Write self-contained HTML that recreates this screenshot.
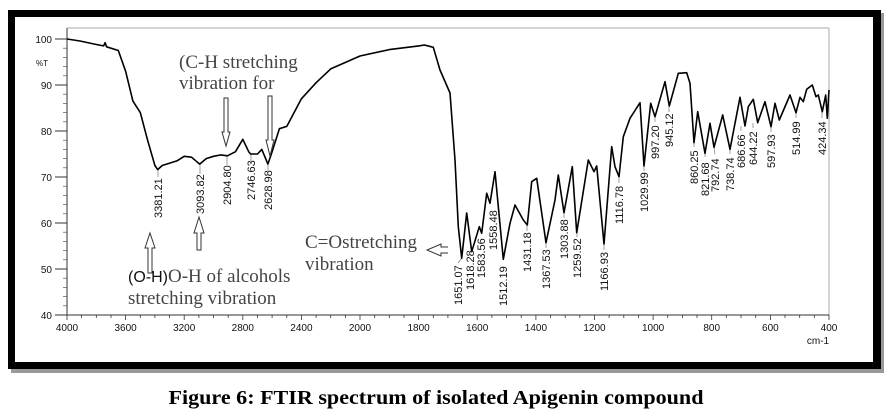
<!DOCTYPE html>
<html><head><meta charset="utf-8"><style>
html,body{margin:0;padding:0;background:#fff;}
svg{display:block;}
</style></head><body>
<svg width="887" height="418" viewBox="0 0 887 418" xmlns="http://www.w3.org/2000/svg">
<rect x="0" y="0" width="887" height="418" fill="#fff"/>
<rect x="11" y="13" width="873" height="360" fill="#999"/>
<rect x="8" y="10" width="873" height="359" fill="#000"/>
<rect x="15" y="17" width="858" height="345" fill="#fff"/>
<line x1="67" y1="28" x2="829" y2="28" stroke="#aaa" stroke-width="1"/>
<line x1="829" y1="28" x2="829" y2="315" stroke="#aaa" stroke-width="1"/>
<line x1="67" y1="28" x2="67" y2="315" stroke="#333" stroke-width="1"/>
<line x1="55" y1="315" x2="829" y2="315" stroke="#333" stroke-width="1"/>
<g stroke="#333" stroke-width="1">
<line x1="55" y1="39" x2="67" y2="39"/><line x1="55" y1="85" x2="67" y2="85"/><line x1="55" y1="131" x2="67" y2="131"/><line x1="55" y1="177" x2="67" y2="177"/><line x1="55" y1="223" x2="67" y2="223"/><line x1="55" y1="269" x2="67" y2="269"/>
</g>
<g font-family="Liberation Sans, sans-serif" font-size="10" fill="#111" text-anchor="end">
<text x="52" y="43">100</text><text x="52" y="89">90</text><text x="52" y="135">80</text><text x="52" y="181">70</text><text x="52" y="227">60</text><text x="52" y="273">50</text><text x="52" y="319">40</text>
<text x="48" y="66" font-size="8">%T</text>
</g>
<g font-family="Liberation Sans, sans-serif" font-size="10" fill="#111" text-anchor="middle">
<text x="67" y="331">4000</text><text x="125.6" y="331">3600</text><text x="184.2" y="331">3200</text><text x="242.8" y="331">2800</text><text x="301.4" y="331">2400</text><text x="360" y="331">2000</text><text x="418.6" y="331">1800</text><text x="477.2" y="331">1600</text><text x="535.9" y="331">1400</text><text x="594.5" y="331">1200</text><text x="653.1" y="331">1000</text><text x="711.7" y="331">800</text><text x="770.4" y="331">600</text><text x="829" y="331">400</text>
<text x="818" y="344">cm-1</text>
</g>
<g stroke="#333" stroke-width="0.8">
<line x1="67" y1="315" x2="67" y2="320"/><line x1="81.6" y1="315" x2="81.6" y2="318"/><line x1="96.3" y1="315" x2="96.3" y2="318"/><line x1="111" y1="315" x2="111" y2="318"/><line x1="125.6" y1="315" x2="125.6" y2="320"/><line x1="140.3" y1="315" x2="140.3" y2="318"/><line x1="154.9" y1="315" x2="154.9" y2="318"/><line x1="169.6" y1="315" x2="169.6" y2="318"/><line x1="184.2" y1="315" x2="184.2" y2="320"/><line x1="198.9" y1="315" x2="198.9" y2="318"/><line x1="213.5" y1="315" x2="213.5" y2="318"/><line x1="228.2" y1="315" x2="228.2" y2="318"/><line x1="242.8" y1="315" x2="242.8" y2="320"/><line x1="257.5" y1="315" x2="257.5" y2="318"/><line x1="272.1" y1="315" x2="272.1" y2="318"/><line x1="286.8" y1="315" x2="286.8" y2="318"/><line x1="301.4" y1="315" x2="301.4" y2="320"/><line x1="316.1" y1="315" x2="316.1" y2="318"/><line x1="330.7" y1="315" x2="330.7" y2="318"/><line x1="345.4" y1="315" x2="345.4" y2="318"/><line x1="360" y1="315" x2="360" y2="320"/><line x1="374.7" y1="315" x2="374.7" y2="318"/><line x1="389.3" y1="315" x2="389.3" y2="318"/><line x1="404" y1="315" x2="404" y2="318"/><line x1="418.6" y1="315" x2="418.6" y2="320"/><line x1="433.3" y1="315" x2="433.3" y2="318"/><line x1="447.9" y1="315" x2="447.9" y2="318"/><line x1="462.6" y1="315" x2="462.6" y2="318"/><line x1="477.2" y1="315" x2="477.2" y2="320"/><line x1="491.9" y1="315" x2="491.9" y2="318"/><line x1="506.5" y1="315" x2="506.5" y2="318"/><line x1="521.2" y1="315" x2="521.2" y2="318"/><line x1="535.9" y1="315" x2="535.9" y2="320"/><line x1="550.5" y1="315" x2="550.5" y2="318"/><line x1="565.2" y1="315" x2="565.2" y2="318"/><line x1="579.8" y1="315" x2="579.8" y2="318"/><line x1="594.5" y1="315" x2="594.5" y2="320"/><line x1="609.1" y1="315" x2="609.1" y2="318"/><line x1="623.8" y1="315" x2="623.8" y2="318"/><line x1="638.4" y1="315" x2="638.4" y2="318"/><line x1="653.1" y1="315" x2="653.1" y2="320"/><line x1="667.7" y1="315" x2="667.7" y2="318"/><line x1="682.4" y1="315" x2="682.4" y2="318"/><line x1="697" y1="315" x2="697" y2="318"/><line x1="711.7" y1="315" x2="711.7" y2="320"/><line x1="726.3" y1="315" x2="726.3" y2="318"/><line x1="741" y1="315" x2="741" y2="318"/><line x1="755.7" y1="315" x2="755.7" y2="318"/><line x1="770.4" y1="315" x2="770.4" y2="320"/><line x1="785" y1="315" x2="785" y2="318"/><line x1="799.7" y1="315" x2="799.7" y2="318"/><line x1="814.3" y1="315" x2="814.3" y2="318"/><line x1="829" y1="315" x2="829" y2="320"/>
</g>
<g stroke="#555" stroke-width="0.7">
<line x1="63" y1="48.2" x2="67" y2="48.2"/><line x1="63" y1="57.4" x2="67" y2="57.4"/><line x1="63" y1="66.6" x2="67" y2="66.6"/><line x1="63" y1="75.8" x2="67" y2="75.8"/>
<line x1="63" y1="94.2" x2="67" y2="94.2"/><line x1="63" y1="103.4" x2="67" y2="103.4"/><line x1="63" y1="112.6" x2="67" y2="112.6"/><line x1="63" y1="121.8" x2="67" y2="121.8"/>
<line x1="63" y1="140.2" x2="67" y2="140.2"/><line x1="63" y1="149.4" x2="67" y2="149.4"/><line x1="63" y1="158.6" x2="67" y2="158.6"/><line x1="63" y1="167.8" x2="67" y2="167.8"/>
<line x1="63" y1="186.2" x2="67" y2="186.2"/><line x1="63" y1="195.4" x2="67" y2="195.4"/><line x1="63" y1="204.6" x2="67" y2="204.6"/><line x1="63" y1="213.8" x2="67" y2="213.8"/>
<line x1="63" y1="232.2" x2="67" y2="232.2"/><line x1="63" y1="241.4" x2="67" y2="241.4"/><line x1="63" y1="250.6" x2="67" y2="250.6"/><line x1="63" y1="259.8" x2="67" y2="259.8"/>
<line x1="63" y1="278.2" x2="67" y2="278.2"/><line x1="63" y1="287.4" x2="67" y2="287.4"/><line x1="63" y1="296.6" x2="67" y2="296.6"/><line x1="63" y1="305.8" x2="67" y2="305.8"/>
</g>
<!-- leader lines -->
<g stroke="#777" stroke-width="0.7">
<line x1="158" y1="170" x2="158" y2="177"/>
<line x1="200" y1="164" x2="200" y2="174"/>
<line x1="227" y1="156" x2="227" y2="165"/>
<line x1="251" y1="154" x2="251" y2="161"/>
<line x1="268" y1="164" x2="268" y2="171"/>
<line x1="461" y1="259" x2="458" y2="263"/>
<line x1="527" y1="225" x2="527" y2="231"/>
<line x1="546" y1="243" x2="546" y2="248"/>
<line x1="564" y1="213" x2="564" y2="218"/>
<line x1="577" y1="233" x2="577" y2="237"/>
<line x1="604" y1="244" x2="604" y2="250"/>
<line x1="619" y1="177" x2="619" y2="183"/>
<line x1="644" y1="166" x2="644" y2="171"/>
<line x1="655" y1="117" x2="655" y2="122"/>
<line x1="669" y1="106" x2="669" y2="112"/>
<line x1="694" y1="143" x2="694" y2="147"/>
<line x1="705" y1="153" x2="705" y2="157"/>
<line x1="714" y1="147" x2="715" y2="154"/>
<line x1="730" y1="149" x2="730" y2="154"/>
<line x1="741" y1="126" x2="741" y2="131"/>
<line x1="753" y1="123" x2="753" y2="128"/>
<line x1="771" y1="127" x2="771" y2="132"/>
<line x1="796" y1="113" x2="796" y2="118"/>
<line x1="822" y1="112" x2="822" y2="118"/>
</g>
<polyline fill="none" stroke="#000" stroke-width="1.6" stroke-linejoin="round" points="
67,39 80,41 96.3,44.5 103.6,45.9 105.1,42.7 106.6,46.8 118.3,50.5 125.6,71.2 132.9,101.1 140.3,112.6 147.6,140.2 154.9,165.5 157.7,169.6 162.2,165.5 176.9,160.9 184.2,156.3 191.5,157.2 199.7,164.1 206.2,158.6 213.5,156.3 220.8,154.9 227.4,155.8 235.5,151.7 242.8,139.3 248.7,151.7 250.6,154 257.5,154 261.8,149.4 267.9,164.1 272.1,151.7 279.4,128.7 286.8,126.4 301.4,98.8 316.1,82.7 330.7,68.9 360,56 389.3,49.6 418.6,45.9 424.5,45 433.3,47.3 440,70 450,93 455,160 458.3,226.7 461.7,258.3 466.7,213 471.7,251.7 479.3,226.7 481.7,233.3 486.7,193.3 490,203.3 495,171.7 503.3,259.3 510,223.3 515,205 523.3,220 527.3,225 531.7,181.7 536.7,178.3 546,242.7 555,200 558.3,175 564,212.7 572.3,166.7 576.7,232.7 588.3,160 594,171.7 596.7,166 604,244 611.7,146.7 615,166.7 619,176.7 623.3,136.7 630,118.3 640,102.7 644,166 650.7,103.3 655,116.7 665,81.7 669.3,106 678.3,73.3 686.7,72.7 690,83.3 694,142.7 697.7,111.7 705,153.3 710,123.3 714,147.3 722.7,115 730,149.3 740,97.3 745,126 748.3,106.7 753.3,99.3 757.7,122.7 765,101.7 771,126.7 775,103.3 779.3,120 790,95 796,112.7 800,97.3 803.3,101.7 806.7,89.3 812.3,85 816,96.7 818.3,95 822.3,111.7 825.7,95 827.3,118.3 829,90"/>
<g font-family="Liberation Sans, sans-serif" font-size="11" fill="#111">
<text transform="translate(162,218) rotate(-90)">3381.21</text>
<text transform="translate(204,214) rotate(-90)">3093.82</text>
<text transform="translate(231,205) rotate(-90)">2904.80</text>
<text transform="translate(255,200) rotate(-90)">2746.63</text>
<text transform="translate(272,210) rotate(-90)">2628.98</text>
<text transform="translate(462,305) rotate(-90)">1651.07</text>
<text transform="translate(474,290) rotate(-90)">1618.28</text>
<text transform="translate(485,278) rotate(-90)">1583.56</text>
<text transform="translate(497,250) rotate(-90)">1558.48</text>
<text transform="translate(507,306) rotate(-90)">1512.19</text>
<text transform="translate(531,272) rotate(-90)">1431.18</text>
<text transform="translate(550,289) rotate(-90)">1367.53</text>
<text transform="translate(568,259) rotate(-90)">1303.88</text>
<text transform="translate(581,278) rotate(-90)">1259.52</text>
<text transform="translate(608,291) rotate(-90)">1166.93</text>
<text transform="translate(623,224) rotate(-90)">1116.78</text>
<text transform="translate(648,212) rotate(-90)">1029.99</text>
<text transform="translate(659,159) rotate(-90)">997.20</text>
<text transform="translate(673,147) rotate(-90)">945.12</text>
<text transform="translate(698,184) rotate(-90)">860.25</text>
<text transform="translate(709,196) rotate(-90)">821.68</text>
<text transform="translate(719,192) rotate(-90)">792.74</text>
<text transform="translate(734,191) rotate(-90)">738.74</text>
<text transform="translate(745,168) rotate(-90)">686.66</text>
<text transform="translate(757,165) rotate(-90)">644.22</text>
<text transform="translate(775,168) rotate(-90)">597.93</text>
<text transform="translate(800,155) rotate(-90)">514.99</text>
<text transform="translate(826,155) rotate(-90)">424.34</text>
</g>
<g font-family="Liberation Serif, serif" font-size="19" fill="#444">
<text x="179" y="68">(C-H stretching</text>
<text x="179" y="89">vibration for</text>
<text x="305" y="248">C=Ostretching</text>
<text x="305" y="270">vibration</text>
<text x="128" y="282"><tspan font-family="Liberation Sans, sans-serif" font-size="16" fill="#111">(O-H)</tspan>O-H of alcohols</text>
<text x="128" y="304">stretching vibration</text>
</g>
<g fill="#fff" stroke="#333" stroke-width="1">
<path d="M224,98 H228 V132 H230 L226,146 L222,132 H224 Z"/>
<path d="M268,96 H272 V140 H274 L270,156 L266,140 H268 Z"/>
<path d="M148,273 V248 H145 L150,233 L155,248 H152 V273 Z"/>
<path d="M197,250 V233 H194 L199,217 L204,233 H201 V250 Z"/>
<path d="M448,247 H441 V244 L427,250 L441,256 V253 H448"/>
</g>
<text x="436" y="404" text-anchor="middle" font-family="Liberation Serif, serif" font-weight="bold" font-size="20" textLength="535" lengthAdjust="spacingAndGlyphs" fill="#000">Figure 6: FTIR spectrum of isolated Apigenin compound</text>
</svg>
</body></html>
